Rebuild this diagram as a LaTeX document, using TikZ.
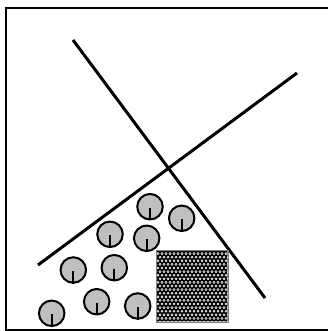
\documentclass[tikz,border=0pt]{standalone}
\begin{document}
\begin{tikzpicture}[x=1pt,y=-1pt,
  ball/.style={circle,draw=black,line width=2pt,fill=black!25,minimum size=25.5pt,inner sep=0pt},
  bigline/.style={line width=3pt},
  frameline/.style={line width=2pt}]
\useasboundingbox (0,0) rectangle (327,331);
% frame (right side outside the picture)
\draw[frameline] (6,329.5) rectangle (345,8);
% lines
\coordinate (a1) at (73,40);
\coordinate (a2) at (265,298);
\coordinate (b1) at (38,265);
\coordinate (b2) at (297,73);
\draw[bigline] (a1) -- (a2);
\draw[bigline] (b1) -- (b2);
% patterned box
\node[rectangle,minimum width=71pt,minimum height=71pt,inner sep=0pt,fill=black,draw=black!50,line width=1pt] (box) at (192.2,286.2) {};
\begin{scope}
\clip (box.south west) rectangle (box.north east);
\foreach \i in {0,...,18}{
  \foreach \j in {0,...,20}{
    \pgfmathsetmacro{\xx}{156+\i*4+mod(\j,2)*2}
    \pgfmathsetmacro{\yy}{250+\j*3.6}
    \fill[white] (\xx,\yy) circle (1.45pt);
    \fill[black] (\xx,\yy) circle (0.5pt);
  }
}
\end{scope}
\draw[draw=black!50,line width=1pt] (box.south west) rectangle (box.north east);
% balls
\foreach \n/\x/\y in {c1/150/206.7, c2/181.7/218.3, c3/110/234.3, c4/146.7/238.3, c5/73.3/270, c6/114.3/267.7, c7/96.7/301.7, c8/137.7/306, c9/51.7/313.3}{
  \node[ball] (\n) at (\x,\y) {};
  \draw[line width=1.8pt] ([yshift=-1pt]\n.center) -- (\n.south);
}
\end{tikzpicture}
\end{document}
